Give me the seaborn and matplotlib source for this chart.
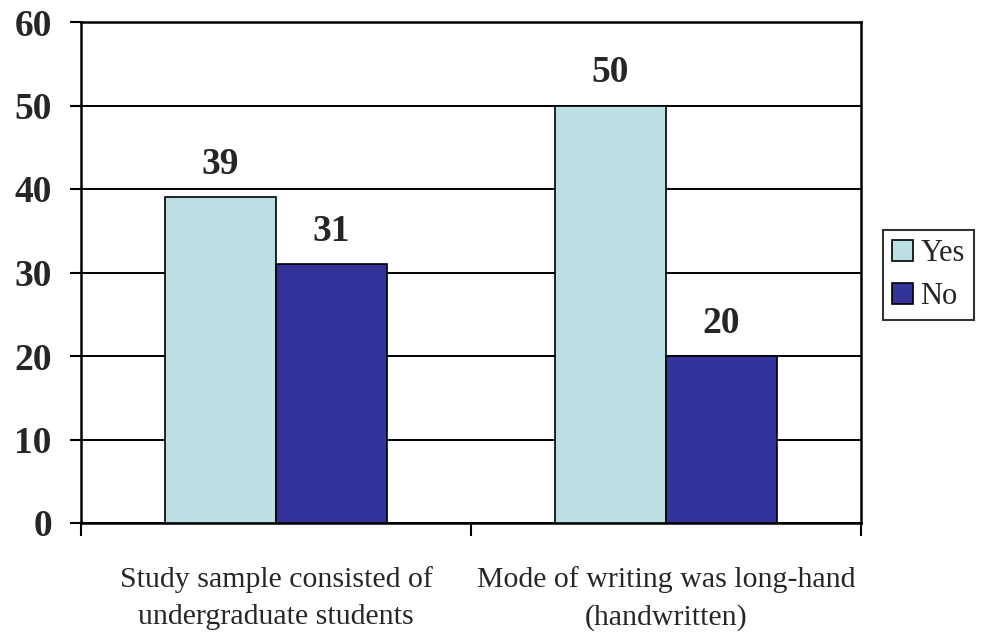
import matplotlib
matplotlib.use("Agg")
import matplotlib.pyplot as plt
import seaborn as sns
import pandas as pd
from matplotlib.patches import Patch

categories = ["Study sample consisted of\nundergraduate students",
              "Mode of writing was long-hand\n(handwritten)"]
series = ["Yes", "No"]
yes_values = [39, 50]
no_values = [31, 20]
y_ticks = [0, 10, 20, 30, 40, 50, 60]
colors = {"Yes": "#BAE0E3", "No": "#333399"}

df = pd.DataFrame({
    "category": categories * 2,
    "answer": ["Yes"] * len(categories) + ["No"] * len(categories),
    "count": yes_values + no_values,
})

sns.set_theme(style="white")
plt.rcParams["font.family"] = ["Liberation Serif", "DejaVu Serif"]

fig = plt.figure(figsize=(9.84, 6.37), dpi=100)
ax = fig.add_axes([81 / 984, 1 - 523 / 637, 780 / 984, 501 / 637])

sns.barplot(data=df, x="category", y="count", hue="answer",
            hue_order=series, order=categories, palette=colors,
            width=0.57, edgecolor="black", linewidth=1.2,
            saturation=1, legend=False, ax=ax, zorder=3)

ax.set_xlim(-0.5, len(categories) - 0.5)
ax.set_ylim(0, 60)
ax.set_yticks(y_ticks)
ax.set_yticklabels([str(v) for v in y_ticks], fontsize=27, fontweight="bold")
ax.yaxis.grid(True, color="black", linewidth=1.4, zorder=0)
ax.set_axisbelow(True)

# boundary tick marks between categories, labels centred on the groups
ax.set_xticks([i - 0.5 for i in range(len(categories) + 1)])
ax.set_xticklabels([])
ax.set_xticks(range(len(categories)), minor=True)
ax.set_xticklabels(categories, minor=True, fontsize=21.5, linespacing=1.55)
ax.tick_params(axis="x", which="major", direction="out", length=9,
               width=1.5, color="black", bottom=True)
ax.tick_params(axis="x", which="minor", length=0, pad=31)
ax.tick_params(axis="y", direction="out", length=8, width=1.5,
               color="black", left=True, pad=13)

for s in ax.spines.values():
    s.set_visible(True)
    s.set_color("black")
    s.set_linewidth(1.8)

ax.set_xlabel("")
ax.set_ylabel("")

for container in ax.containers:
    ax.bar_label(container, fmt="%d", padding=11, fontsize=27,
                 fontweight="bold")

handles = [Patch(facecolor=colors[s], edgecolor="black", linewidth=1.2)
           for s in series]
leg = fig.legend(handles, series, loc="center left",
                 bbox_to_anchor=(883 / 984, 1 - 275 / 637),
                 fontsize=22, frameon=True, fancybox=False,
                 handlelength=0.68, handleheight=0.68, handletextpad=0.25,
                 borderpad=0.3, labelspacing=0.45, borderaxespad=0)
leg.get_frame().set_edgecolor("black")
leg.get_frame().set_linewidth(1.5)

fig.savefig("out.png", dpi=100, facecolor="white")
